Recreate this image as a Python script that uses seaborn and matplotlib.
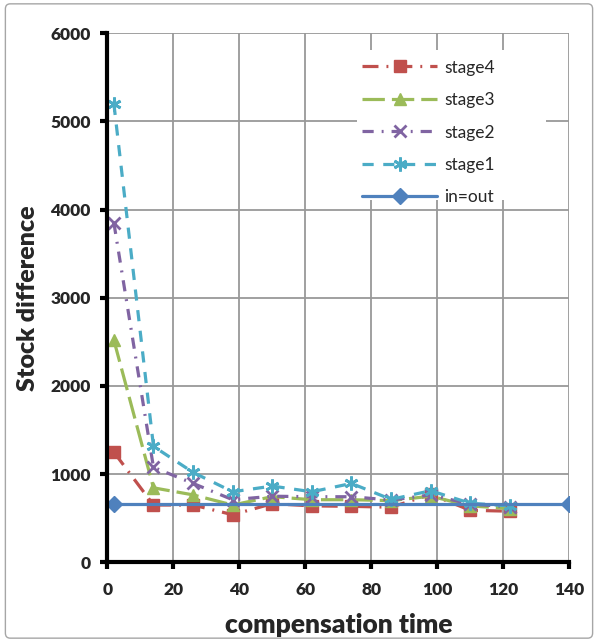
import numpy as np
import pandas as pd
import matplotlib
matplotlib.use("Agg")
import matplotlib.pyplot as plt
import seaborn as sns
from matplotlib.patches import FancyBboxPatch, Rectangle

# ---- data ----
time = [2, 14, 26, 38, 50, 62, 74, 86, 98, 110, 122]
stage4 = [1250, 650, 650, 540, 665, 640, 635, 625, 770, 590, 580]
stage3 = [2520, 845, 765, 650, 745, 710, 710, 700, 750, 640, 610]
stage2 = [3850, 1077, 895, 710, 750, 744, 744, 706, 765, 660, 630]
stage1 = [5200, 1315, 1020, 800, 865, 800, 895, 714, 812, 670, 640]
inout_time = [2, 140]
inout = [658, 658]

labels = ["stage4", "stage3", "stage2", "stage1", "in=out"]
colors = ["#C0504D", "#9BBB59", "#8064A2", "#4BACC6", "#4F81BD"]

sns.set_style("white")
plt.rcParams["font.family"] = ["Lato", "DejaVu Sans"]

fig = plt.figure(figsize=(5.98, 6.42), dpi=100)
ax = fig.add_axes([0.1794, 0.1241, 0.7726, 0.824])

lw = 2.3
series = [
    (time, stage4, labels[0], colors[0], "s", 8.5, (0, (5, 2.5, 0.6, 2.5))),
    (time, stage3, labels[1], colors[1], "^", 9, (0, (7, 2.2))),
    (time, stage2, labels[2], colors[2], "x", 8, (0, (3.5, 2.5, 0.6, 2.5))),
    (time, stage1, labels[3], colors[3], (6, 2, 0), 10, (0, (3.5, 3))),
    (inout_time, inout, labels[4], colors[4], "D", 8, "-"),
]
for x, y, lab, c, m, ms, ls in series:
    sns.lineplot(x=x, y=y, ax=ax, color=c, marker=m, markersize=ms,
                 linestyle=ls, linewidth=lw, label=lab,
                 markeredgecolor=c, markerfacecolor=c,
                 markeredgewidth=2.0 if m in ("x",) or isinstance(m, tuple) else 1.0)

ax.set_xlim(0, 140)
ax.set_ylim(0, 6000)
ax.set_xticks(np.arange(0, 141, 20))
ax.set_yticks(np.arange(0, 6001, 1000))
ax.grid(True, color="#999999", linewidth=1.3)
ax.set_axisbelow(True)
for s in ["top", "right"]:
    ax.spines[s].set_visible(False)
for s in ["left", "bottom"]:
    ax.spines[s].set_color("black")
    ax.spines[s].set_linewidth(3)
ax.tick_params(axis="both", which="major", direction="out", length=5, width=3,
               color="black", labelsize=12.5, pad=7,
               left=True, bottom=True)
ax.tick_params(axis="x", pad=9)
for t in ax.get_xticklabels() + ax.get_yticklabels():
    t.set_fontweight("heavy")

ax.set_xlabel("compensation time", fontsize=19, fontweight="heavy", labelpad=11)
ax.set_ylabel("Stock difference", fontsize=18, fontweight="heavy", labelpad=8)

# white legend area (plot-area background behind legend)
ax.add_patch(Rectangle((0.541, 0.685), 0.409, 0.283, transform=ax.transAxes,
                       facecolor="white", edgecolor="none", zorder=1.5))

leg = ax.legend(loc="upper right", bbox_to_anchor=(0.872, 0.98), frameon=False,
                fontsize=12.5, handlelength=4.3, handletextpad=0.4,
                labelspacing=0.95, borderpad=0.4)

border = FancyBboxPatch((0.009, 0.006), 0.982, 0.988, transform=fig.transFigure,
                        boxstyle="round,pad=0,rounding_size=0.008",
                        facecolor="none", edgecolor="#A6A6A6", linewidth=1.0)
fig.patches.append(border)

fig.savefig("out.png", dpi=100)
